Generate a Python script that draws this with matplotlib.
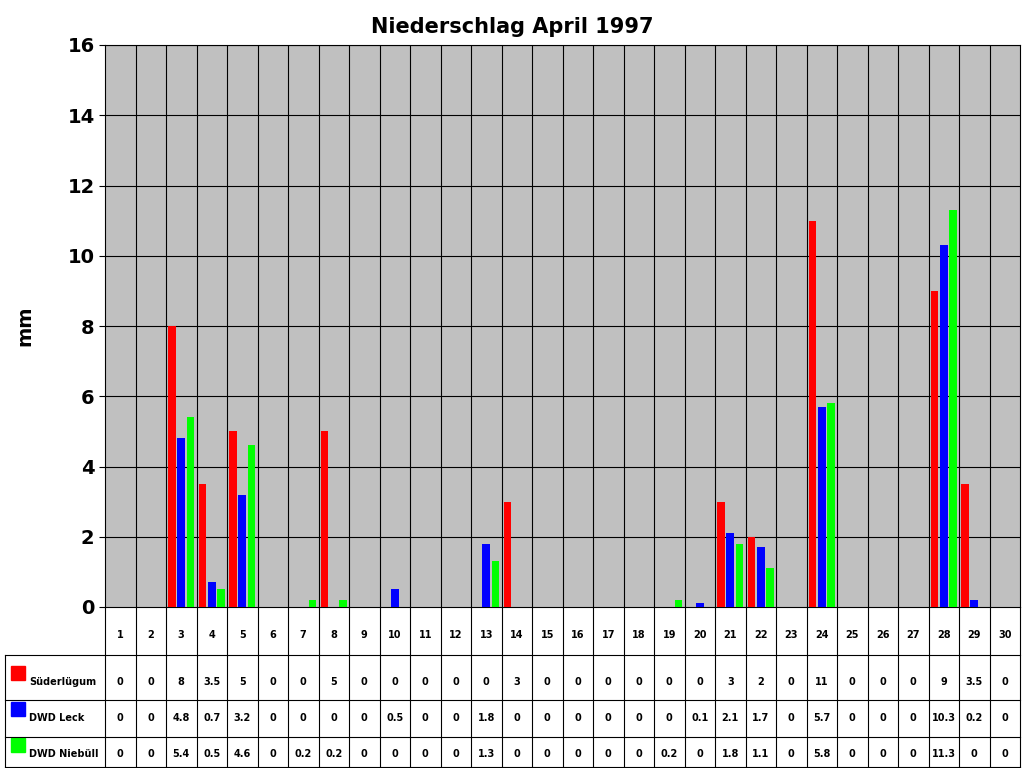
import matplotlib.pyplot as plt
import numpy as np

days = list(range(1, 31))
suederluegum = [0, 0, 8, 3.5, 5, 0, 0, 5, 0, 0, 0, 0, 0, 3, 0, 0, 0, 0, 0, 0, 3, 2, 0, 11, 0, 0, 0, 9, 3.5, 0]
dwd_leck = [0, 0, 4.8, 0.7, 3.2, 0, 0, 0, 0, 0.5, 0, 0, 1.8, 0, 0, 0, 0, 0, 0, 0.1, 2.1, 1.7, 0, 5.7, 0, 0, 0, 10.3, 0.2, 0]
dwd_niebuell = [0, 0, 5.4, 0.5, 4.6, 0, 0.2, 0.2, 0, 0, 0, 0, 1.3, 0, 0, 0, 0, 0, 0.2, 0, 1.8, 1.1, 0, 5.8, 0, 0, 0, 11.3, 0, 0]

series = [("Süderlügum", suederluegum, "#FF0000"),
          ("DWD Leck", dwd_leck, "#0000FF"),
          ("DWD Niebüll", dwd_niebuell, "#00FF00")]

W, H = 1024, 768
fig = plt.figure(figsize=(W / 100, H / 100), dpi=100)
x0, x1, ytop, ybot = 105, 1020, 45, 607
ax = fig.add_axes([x0 / W, 1 - ybot / H, (x1 - x0) / W, (ybot - ytop) / H])
ax.set_facecolor("#C0C0C0")

x = np.array(days)
bw = 0.25
for i, (name, vals, col) in enumerate(series):
    ax.bar(x + (i - 1) * 0.3, vals, width=bw, color=col, zorder=3)

ax.set_xlim(0.5, 30.5)
ax.set_ylim(0, 16)
ax.set_yticks(range(0, 17, 2))
ax.tick_params(axis="y", labelsize=14, length=4)
for lab in ax.get_yticklabels():
    lab.set_fontweight("bold")
ax.set_xticks([])
for y in range(2, 17, 2):
    ax.axhline(y, color="black", lw=0.8, zorder=1)
for d in range(1, 30):
    ax.axvline(d + 0.5, color="black", lw=0.8, zorder=1)
for s in ax.spines.values():
    s.set_color("black")
fig.text(25 / W, 1 - 326 / H, "mm", rotation=90, ha="center", va="center",
         fontsize=14, fontweight="bold")
fig.text(512 / W, 1 - 27 / H, "Niederschlag April 1997", ha="center", va="center",
         fontsize=15, fontweight="bold")

# data table below the plot
tab = fig.add_axes([x0 / W, 0, (x1 - x0) / W, (H - ybot) / H])
tab.set_xlim(0.5, 30.5)
tab.set_ylim(H, ybot)
tab.axis("off")
unit = (x1 - x0) / 30
xl = 0.5 - (x0 - 5) / unit
rows = [607, 655, 700, 737, 767]
for r in rows[1:]:
    tab.plot([xl, 30.5], [r, r], color="black", lw=0.8, clip_on=False)
tab.plot([xl, xl], [rows[1], rows[-1]], color="black", lw=0.8, clip_on=False)
for d in range(0, 31):
    tab.plot([d + 0.5, d + 0.5], [ybot, rows[-1]], color="black", lw=0.8, clip_on=False)
for d in days:
    tab.text(d, 635, str(d), ha="center", va="center", fontsize=7, fontweight="bold")
ys = [682, 718, 754]
for (name, vals, col), yy in zip(series, ys):
    tab.add_patch(plt.Rectangle((xl + 0.2, yy - 2), 0.45, -14, color=col, clip_on=False))
    tab.text(xl + 0.8, yy, name, ha="left", va="center", fontsize=7, fontweight="bold")
    for d, v in zip(days, vals):
        tab.text(d, yy, f"{v:g}", ha="center", va="center", fontsize=7, fontweight="bold")

fig.savefig("out.png", dpi=100)
